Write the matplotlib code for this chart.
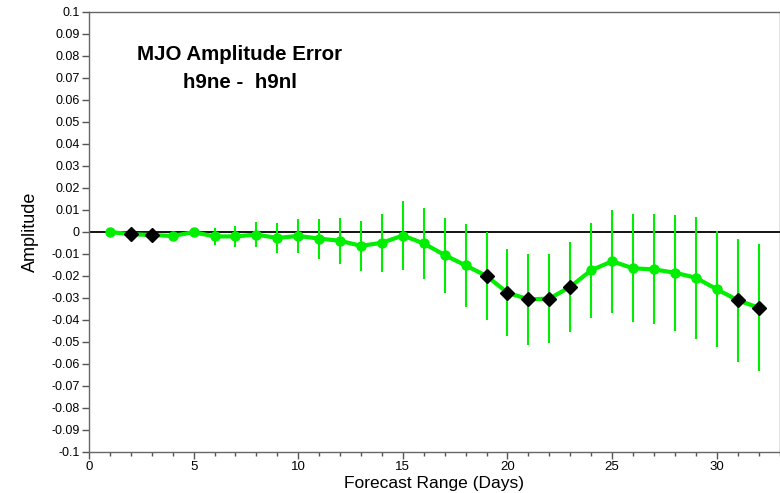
import matplotlib
matplotlib.use("Agg")
import matplotlib.pyplot as plt
from matplotlib.ticker import MultipleLocator, FuncFormatter
import numpy as np

days = list(range(1, 33))
amp_err = [0.0, -0.001, -0.0014, -0.0018, -0.0001, -0.002, -0.002, -0.0012, -0.0027, -0.0018,
           -0.003, -0.004, -0.0063, -0.0049, -0.0016, -0.0052, -0.0105, -0.0152, -0.020, -0.0276,
           -0.0306, -0.0303, -0.0249, -0.0174, -0.0133, -0.0165, -0.017, -0.0185, -0.0208, -0.026,
           -0.031, -0.0344]
err_half = [0.0, 0.001, 0.0012, 0.0015, 0.002, 0.0037, 0.0046, 0.0058, 0.007, 0.0076,
            0.0091, 0.0104, 0.0115, 0.0132, 0.0155, 0.0161, 0.017, 0.0188, 0.020, 0.0197,
            0.0208, 0.0202, 0.0205, 0.0217, 0.0235, 0.0246, 0.025, 0.0263, 0.0277, 0.0264,
            0.0279, 0.0288]
significant = [False, True, True, False, False, False, False, False, False, False,
               False, False, False, False, False, False, False, False, True, True,
               True, True, True, False, False, False, False, False, False, False,
               True, True]
title_lines = ["MJO Amplitude Error", "h9ne -  h9nl"]

plt.rcParams['font.family'] = ['Liberation Sans', 'DejaVu Sans']

fig = plt.figure(figsize=(7.8, 4.93), dpi=100)
ax = fig.add_axes([89 / 780, 41 / 493, (779.5 - 89) / 780, (452 - 12) / 493])

green = '#00ee00'
d = np.array(days)
v = np.array(amp_err)
e = np.array(err_half)
s = np.array(significant)

ax.axhline(0, color='black', lw=1.3, zorder=1)
ax.errorbar(d, v, yerr=e, fmt='none', ecolor=green, elinewidth=1.5, capsize=0, zorder=2)
ax.plot(d, v, color=green, lw=3, zorder=3)
ax.plot(d[~s], v[~s], 'o', color=green, ms=6.5, mec=green, zorder=4, linestyle='none')
ax.plot(d[s], v[s], 'D', color='black', ms=7, mec='black', zorder=5, linestyle='none')

ax.set_xlim(0, 33)
ax.set_ylim(-0.1, 0.1)
ax.xaxis.set_major_locator(MultipleLocator(5))
ax.xaxis.set_minor_locator(MultipleLocator(1))
ax.yaxis.set_major_locator(MultipleLocator(0.01))
ax.yaxis.set_major_formatter(FuncFormatter(lambda y, p: f"{round(y, 2):g}" if abs(y) > 1e-9 else "0"))
ax.tick_params(axis='both', which='major', direction='out', length=5, width=1, color='#555555',
               labelsize=9, pad=1.5)
ax.tick_params(axis='x', which='major', labelsize=9.5)
ax.tick_params(axis='x', which='minor', direction='out', length=3, width=1, color='#555555')
for sp in ax.spines.values():
    sp.set_color('#666666')
    sp.set_linewidth(1)

ax.set_xlabel("Forecast Range (Days)", fontsize=12.5, labelpad=2)
ax.set_ylabel("Amplitude", fontsize=13, labelpad=9)

ax.text(7.2, 0.0805, title_lines[0], ha='center', va='center', fontsize=14.8, fontweight='bold')
ax.text(7.2, 0.068, title_lines[1], ha='center', va='center', fontsize=14.8, fontweight='bold')

fig.savefig("out.png", dpi=100)
